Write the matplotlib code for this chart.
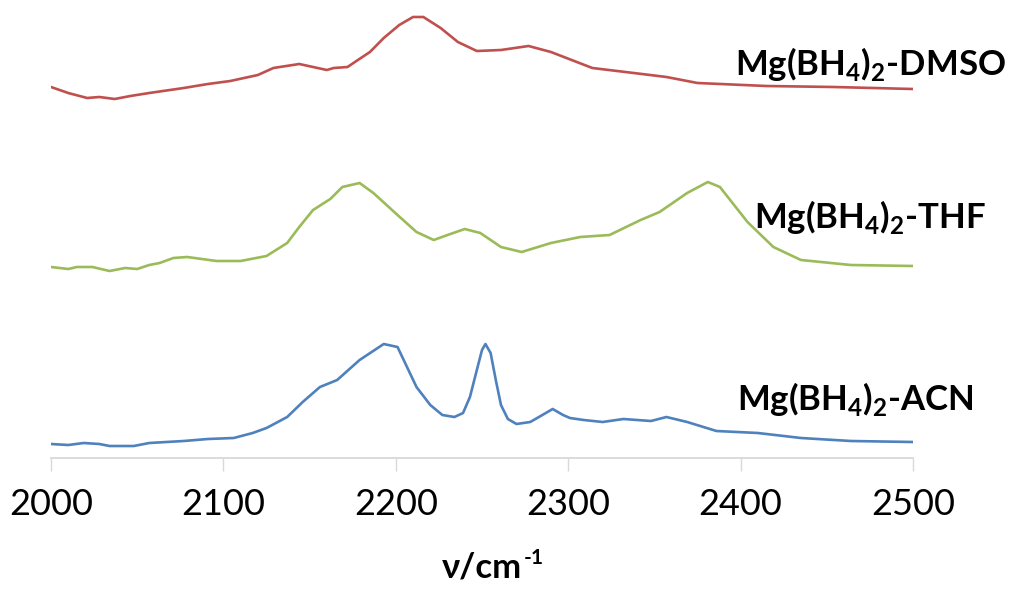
import matplotlib
matplotlib.use("Agg")
import matplotlib.pyplot as plt

# Wavenumber (cm^-1) and offset intensities (arb. units)
dmso_w = [2000, 2010, 2021, 2028, 2037, 2046, 2057, 2077, 2091, 2104, 2120, 2129, 2144, 2152, 2160,
          2164, 2172, 2178, 2185, 2193, 2202, 2210, 2216, 2226, 2236, 2247, 2261, 2277, 2290, 2314,
          2338, 2357, 2375, 2415, 2454, 2500]
dmso_y = [3.71, 3.65, 3.60, 3.61, 3.59, 3.62, 3.65, 3.70, 3.74, 3.77, 3.83, 3.90, 3.94, 3.91, 3.88,
          3.90, 3.91, 3.98, 4.06, 4.20, 4.33, 4.41, 4.41, 4.30, 4.16, 4.07, 4.08, 4.12, 4.06, 3.90,
          3.85, 3.81, 3.75, 3.72, 3.71, 3.69]

thf_w = [2000, 2010, 2015, 2024, 2034, 2043, 2050, 2057, 2063, 2071, 2079, 2096, 2110, 2125, 2137,
         2144, 2152, 2162, 2169, 2179, 2187, 2201, 2212, 2222, 2230, 2240, 2249, 2261, 2273, 2290,
         2307, 2324, 2342, 2353, 2369, 2381, 2388, 2404, 2419, 2435, 2464, 2500]
thf_y = [1.91, 1.89, 1.91, 1.91, 1.87, 1.90, 1.89, 1.93, 1.95, 2.00, 2.01, 1.97, 1.97, 2.02, 2.15,
         2.31, 2.48, 2.59, 2.71, 2.75, 2.65, 2.43, 2.26, 2.18, 2.23, 2.29, 2.25, 2.11, 2.06, 2.15,
         2.21, 2.23, 2.38, 2.46, 2.65, 2.76, 2.71, 2.36, 2.11, 1.98, 1.93, 1.92]

acn_w = [2000, 2010, 2019, 2028, 2034, 2048, 2057, 2077, 2091, 2106, 2117, 2125, 2137, 2146, 2156,
         2166, 2179, 2193, 2201, 2212, 2220, 2227, 2234, 2239, 2243, 2247, 2250, 2252, 2255, 2258,
         2261, 2265, 2270, 2278, 2285, 2291, 2297, 2301, 2309, 2320, 2332, 2348, 2357, 2369, 2386,
         2410, 2435, 2464, 2500]
acn_y = [0.14, 0.13, 0.15, 0.14, 0.12, 0.12, 0.15, 0.17, 0.19, 0.20, 0.25, 0.30, 0.41, 0.56, 0.71,
         0.78, 0.98, 1.14, 1.11, 0.71, 0.53, 0.43, 0.41, 0.45, 0.61, 0.88, 1.08, 1.14, 1.05, 0.78,
         0.53, 0.39, 0.34, 0.36, 0.43, 0.49, 0.43, 0.40, 0.38, 0.36, 0.39, 0.37, 0.41, 0.36, 0.27,
         0.25, 0.20, 0.17, 0.16]

labels = [r"Mg(BH$_\mathbf{4}$)$_\mathbf{2}$-DMSO",
          r"Mg(BH$_\mathbf{4}$)$_\mathbf{2}$-THF",
          r"Mg(BH$_\mathbf{4}$)$_\mathbf{2}$-ACN"]
xticks = [2000, 2100, 2200, 2300, 2400, 2500]

plt.rcParams['mathtext.fontset'] = 'custom'
plt.rcParams['mathtext.rm'] = 'Lato'
plt.rcParams['mathtext.bf'] = 'Lato:bold'
plt.rcParams['font.family'] = ['Lato', 'DejaVu Sans']

W, H = 1013, 591
fig = plt.figure(figsize=(W / 100, H / 100), dpi=100)
ax = fig.add_axes([51 / W, 1 - 458 / H, (913 - 51) / W, 458 / H])

ax.plot(dmso_w, dmso_y, color='#C0504D', lw=1.9, solid_joinstyle='round')
ax.plot(thf_w, thf_y, color='#9BBB59', lw=1.9, solid_joinstyle='round')
ax.plot(acn_w, acn_y, color='#4F81BD', lw=1.9, solid_joinstyle='round')

ax.set_xlim(2000, 2500)
ax.set_ylim(0, 4.58)
ax.set_xticks(xticks)
ax.set_xticklabels([str(t) for t in xticks])
ax.set_yticks([])
for s in ['top', 'right', 'left']:
    ax.spines[s].set_visible(False)
ax.spines['bottom'].set_color('#d9d9d9')
ax.spines['bottom'].set_linewidth(1.3)
ax.tick_params(axis='x', direction='out', length=9.5, width=1.0, color='#d9d9d9',
               labelsize=26, pad=12, labelcolor='black')
ax.set_xlabel("ν/cm", fontsize=25, fontweight='bold', labelpad=22)
ax.annotate("-1", xy=(1.0, 0.78), xycoords=ax.xaxis.label, xytext=(1, 0),
            textcoords='offset points', fontsize=15, fontweight='bold',
            ha='left', va='center')

pos = [(1006, 75), (986, 228), (974, 410)]
for lab, (px, py) in zip(labels, pos):
    fig.text(px / W, 1 - py / H, lab, ha='right', va='baseline', fontsize=25,
             fontweight='bold', color='black')

fig.savefig('out.png', dpi=100)
